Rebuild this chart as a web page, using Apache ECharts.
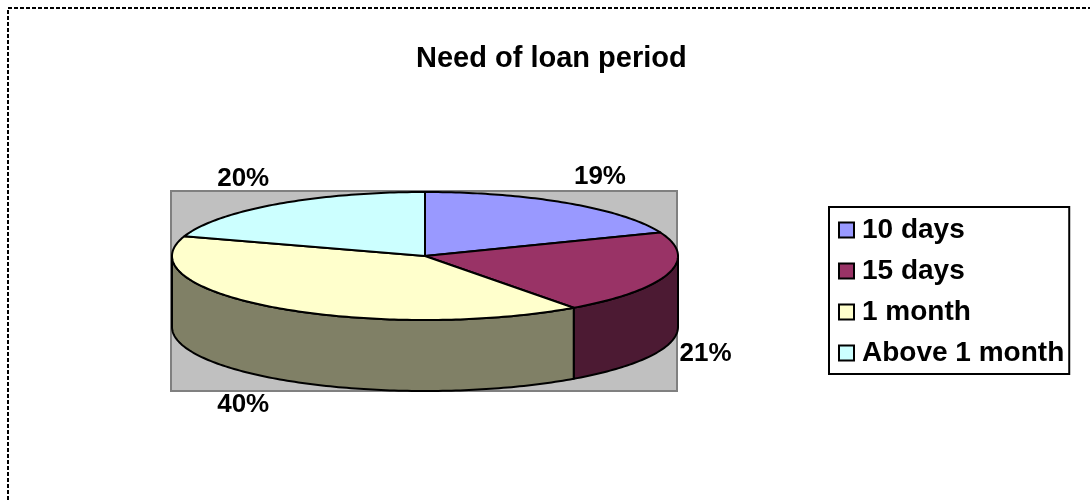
<!DOCTYPE html>
<html>
<head>
<meta charset="utf-8">
<script src="https://cdn.jsdelivr.net/npm/echarts@6/dist/echarts.min.js"></script>
<style>
  html, body { margin: 0; padding: 0; background: #fff; }
  #chart { width: 1090px; height: 502px; }
</style>
</head>
<body>
<div id="chart"></div>
<script>
// Loan period preference, share of respondents (%)
const categories = ['10 days', '15 days', '1 month', 'Above 1 month'];
const shares = [19, 21, 40, 20];
const topColors = ['#9999FF', '#993366', '#FFFFCC', '#CCFFFF'];
const sideColors = ['#4C4C80', '#4C1A33', '#808066', '#668080'];

// Tilted pie geometry: centre of the top ellipse, its radii and the slab thickness
const PIE = { cx: 425, cy: 256, rx: 253, ry: 64, depth: 71 };
const FONT = '"Liberation Sans", Arial, sans-serif';

const total = shares.reduce((a, b) => a + b, 0);
const starts = [];
shares.reduce((acc, v) => { starts.push(acc); return acc + v; }, 0);

// angle measured clockwise from 12 o'clock
function pt(theta, drop) {
  return [PIE.cx + PIE.rx * Math.sin(theta), PIE.cy - PIE.ry * Math.cos(theta) + (drop || 0)];
}
function arc(a, b, drop) {
  const n = Math.max(2, Math.ceil((b - a) / (Math.PI / 180)));
  const out = [];
  for (let k = 0; k <= n; k++) out.push(pt(a + (b - a) * k / n, drop));
  return out;
}

function makeRenderer(i) {
  return function (params, api) {
    const v = api.value(0);
    const a = starts[i] / total * Math.PI * 2;
    const b = (starts[i] + v) / total * Math.PI * 2;
    const children = [];

    // front rim: only the part of the slice facing the viewer (90deg..270deg)
    const s = Math.max(a, Math.PI / 2);
    const e = Math.min(b, Math.PI * 1.5);
    if (e > s) {
      const upper = arc(s, e, 0);
      const lower = arc(s, e, PIE.depth).reverse();
      children.push({
        type: 'polygon',
        z2: 1,
        shape: { points: upper.concat(lower) },
        style: { fill: sideColors[i], stroke: '#000', lineWidth: 2, lineJoin: 'round' }
      });
    }

    // top face
    children.push({
      type: 'polygon',
      z2: 10,
      shape: { points: [[PIE.cx, PIE.cy]].concat(arc(a, b, 0)) },
      style: { fill: topColors[i], stroke: '#000', lineWidth: 2, lineJoin: 'round' }
    });

    // percentage label just outside the slice, pushed away from the centre
    const m = (a + b) / 2;
    const sx = Math.sin(m), cy = Math.cos(m);
    const lx = PIE.cx + (PIE.rx + 12) * sx;
    const ly = PIE.cy - (PIE.ry + 32) * cy + (cy < 0 ? PIE.depth : 0);
    children.push({
      type: 'text',
      z2: 20,
      x: lx,
      y: ly,
      style: {
        text: v + '%',
        fill: '#000',
        font: 'bold 26px ' + FONT,
        align: sx >= 0 ? 'left' : 'right',
        verticalAlign: 'middle'
      }
    });

    return { type: 'group', children: children };
  };
}

const chart = echarts.init(document.getElementById('chart'), null, { renderer: 'canvas' });

chart.setOption({
  animation: false,
  backgroundColor: '#fff',
  color: topColors,
  title: {
    text: 'Need of loan period',
    left: 411,
    top: 39,
    textStyle: { fontSize: 29, fontWeight: 'bold', fontFamily: FONT, color: '#000' }
  },
  legend: {
    orient: 'vertical',
    left: 829,
    top: 207,
    padding: [8, 5, 6, 9],
    itemGap: 11,
    itemWidth: 15,
    itemHeight: 15,
    icon: 'rect',
    selectedMode: false,
    borderColor: '#000',
    borderWidth: 2,
    backgroundColor: '#fff',
    itemStyle: { borderColor: '#000', borderWidth: 2 },
    textStyle: { fontSize: 28, fontWeight: 'bold', fontFamily: FONT, color: '#000', lineHeight: 30, padding: [0, 0, 0, 3] },
    data: categories
  },
  graphic: [
    {
      // chart frame
      type: 'rect',
      z: 0,
      silent: true,
      shape: { x: 8, y: 8, width: 1100, height: 520 },
      style: { fill: 'none', stroke: '#000', lineWidth: 2, lineDash: [4, 2] }
    },
    {
      // plot area
      type: 'rect',
      z: 0,
      silent: true,
      shape: { x: 171, y: 191, width: 506, height: 200 },
      style: { fill: '#C0C0C0', stroke: '#808080', lineWidth: 2 }
    }
  ],
  series: categories.map((name, i) => ({
    type: 'custom',
    name: name,
    coordinateSystem: 'none',
    silent: true,
    z: 2,
    itemStyle: { color: topColors[i] },
    data: [[shares[i]]],
    renderItem: makeRenderer(i)
  }))
});
</script>
</body>
</html>
